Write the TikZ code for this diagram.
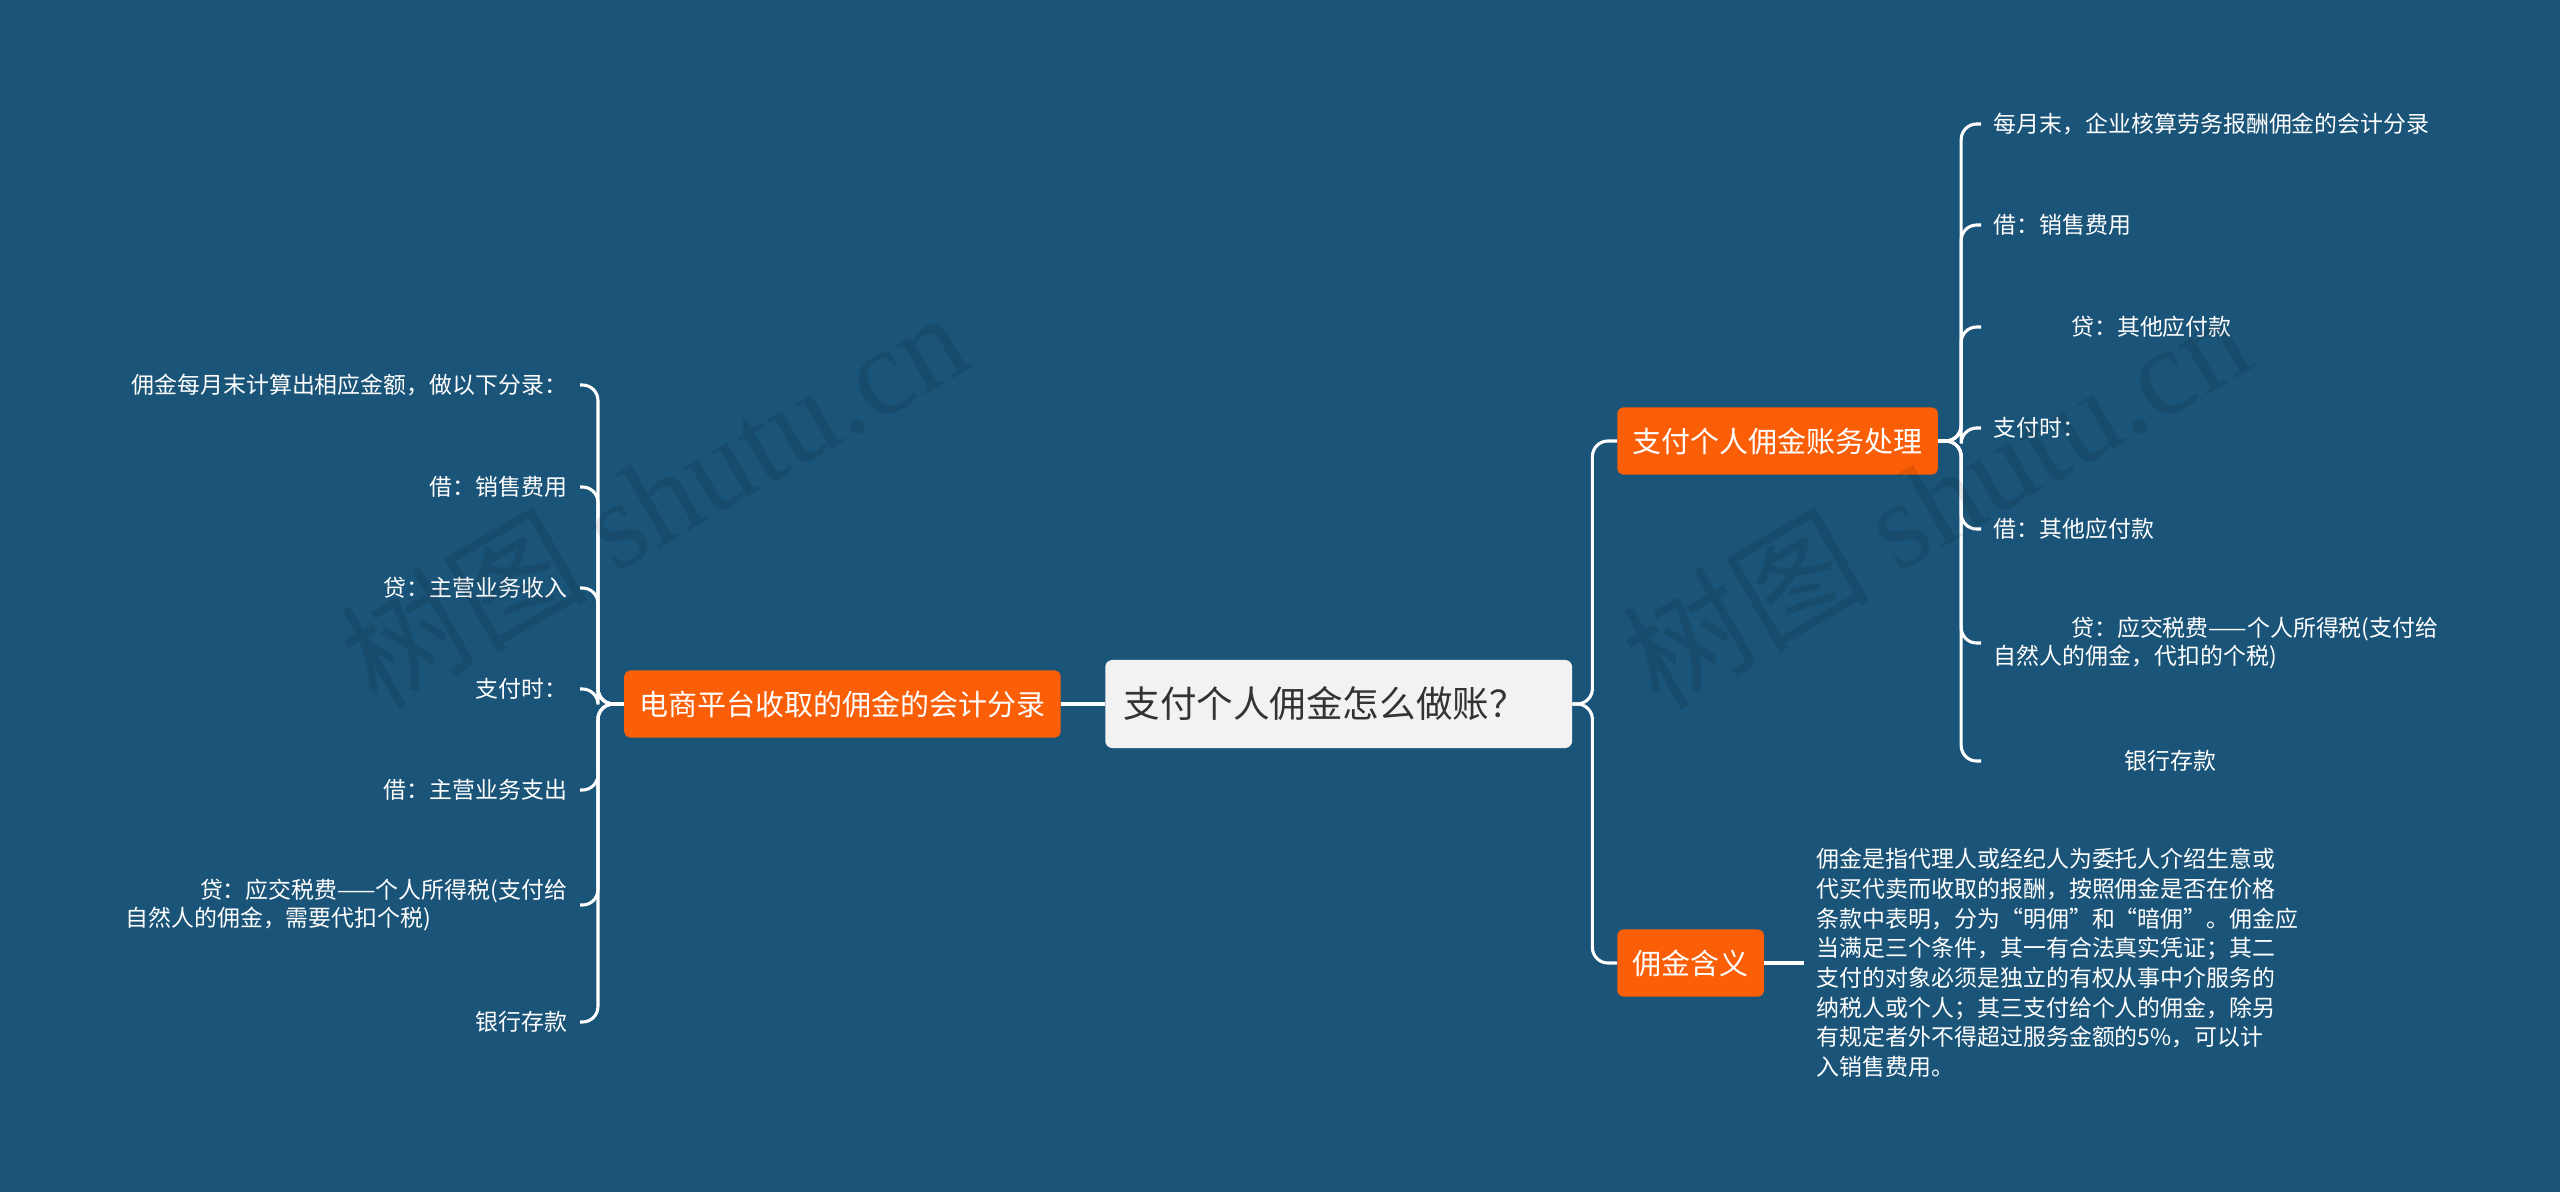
\documentclass[tikz,border=0pt]{standalone}
\usepackage{fontspec}
\setmainfont{Noto Sans CJK SC}
\newfontfamily\wmfont{Liberation Serif}
\usetikzlibrary{positioning}
\definecolor{bgblue}{RGB}{26,84,120}
\definecolor{topicorange}{RGB}{250,94,6}
\definecolor{rootgray}{RGB}{242,242,242}
\definecolor{roottext}{RGB}{51,51,51}

\begin{document}
\begin{tikzpicture}[x=0.025cm,y=-0.025cm,
  link/.style={draw=white,line width=2.2pt,rounded corners=11pt},
  topic/.style={fill=topicorange,text=white,rounded corners=4pt,inner xsep=11pt,minimum height=47.7pt,font=\fontsize{20.6}{24}\selectfont},
  leaf/.style={text=white,inner xsep=9pt,inner ysep=3pt,align=left,font=\fontsize{16.3}{20}\selectfont},
  wmark/.style={text=black,opacity=0.09,rotate=30,font=\fontsize{88}{90}\selectfont}]
  % background and frame
  \fill[bgblue] (0,0) rectangle (2560,1192);
  \useasboundingbox (0,0) rectangle (2560,1192);

  % central topic and main branches
  \node[fill=rootgray,text=roottext,rounded corners=5pt,anchor=west,inner xsep=13pt,text width=306pt,align=left,minimum height=62.6pt,font=\fontsize{26}{30}\selectfont] (root) at (1105,704) {支付个人佣金怎么做账？};
  \node[topic,anchor=east] (lbranch) at (1061,704) {电商平台收取的佣金的会计分录};
  \node[topic,anchor=west] (rpay) at (1617,441) {支付个人佣金账务处理};
  \node[topic,anchor=west] (rmean) at (1617,963) {佣金含义};

  % left leaves
  \foreach \n/\y/\txt in {1/385/{佣金每月末计算出相应金额，做以下分录：},
      2/487/{借：销售费用}, 3/588/{贷：主营业务收入}, 4/689/{支付时：},
      5/790/{借：主营业务支出},
      6/905/{\hspace*{53pt}贷：应交税费——个人所得税(支付给\\自然人的佣金，需要代扣个税)},
      7/1022/{银行存款}} {
    \node[leaf,anchor=east] (l\n) at (580,\y) {\txt};
    \draw[link] (lbranch.west) -- ++(-26,0) |- (l\n.east);
  }

  % right leaves
  \foreach \n/\y/\txt in {1/124/{每月末，企业核算劳务报酬佣金的会计分录},
      2/225/{借：销售费用}, 3/327/{\hspace*{55pt}贷：其他应付款}, 4/428/{支付时：},
      5/529/{借：其他应付款},
      6/643/{\hspace*{55pt}贷：应交税费——个人所得税(支付给\\自然人的佣金，代扣的个税)},
      7/761/{\hspace*{93pt}银行存款}} {
    \node[leaf,anchor=west] (r\n) at (1981,\y) {\txt};
    \draw[link] (rpay.east) -- ++(23,0) |- (r\n.west);
  }

  % meaning text
  \node[leaf,anchor=west,font=\fontsize{16.3}{21.1}\selectfont] (meantext) at (1804,963) {佣金是指代理人或经纪人为委托人介绍生意或\\代买代卖而收取的报酬，按照佣金是否在价格\\条款中表明，分为“明佣”和“暗佣”。佣金应\\当满足三个条件，其一有合法真实凭证；其二\\支付的对象必须是独立的有权从事中介服务的\\纳税人或个人；其三支付给个人的佣金，除另\\有规定者外不得超过服务金额的5\%，可以计\\入销售费用。};

  \draw[link] (root.west) -- (lbranch.east);
  \draw[link] (root.east) -- ++(20,0) |- (rpay.west);
  \draw[link] (root.east) -- ++(20,0) |- (rmean.west);
  \draw[link] (rmean.east) -- (meantext.west);

  % watermark
  \node[wmark] (wm1) at (653,498) {树图 {\wmfont shutu.cn}};
  \node[wmark] (wm2) at (1935,498) {树图 {\wmfont shutu.cn}};
\end{tikzpicture}
\end{document}
